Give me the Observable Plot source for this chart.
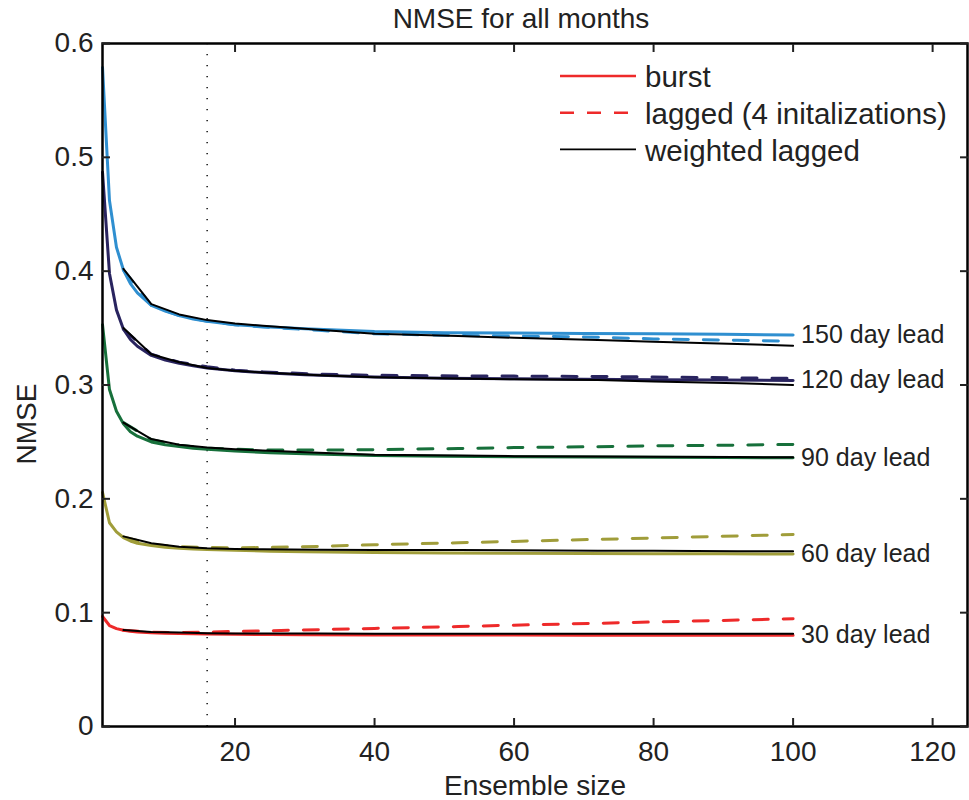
<!DOCTYPE html>
<html>
<head>
<meta charset="utf-8">
<script src="https://cdn.jsdelivr.net/npm/d3@7"></script>
<script src="https://cdn.jsdelivr.net/npm/@observablehq/plot@0.6"></script>
<style>
  body { margin: 0; background: #fff; }
  #wrap { position: relative; width: 969px; height: 800px; font-family: "Liberation Sans", Arial, Helvetica, sans-serif; }
  #overlay { position: absolute; left: 0; top: 0; pointer-events: none; }
</style>
</head>
<body>
<div id="wrap"></div>
<script>
// ---------------- data ----------------
const leads = ["150 day lead", "120 day lead", "90 day lead", "60 day lead", "30 day lead"];
const leadColors = ["#2f8fd0", "#29245f", "#17703b", "#a09d3a", "#ee2a2a"];

const xTicks = [20, 40, 60, 80, 100, 120];
const yTicks = [0, 0.1, 0.2, 0.3, 0.4, 0.5, 0.6];
const markerX = [16];

// burst ensemble sizes
const burstX = [1, 2, 3, 4, 5, 6, 8, 10, 12, 14, 16, 20, 25, 30, 40, 50, 60, 70, 80, 90, 100];
const burst150 = [0.579, 0.462, 0.421, 0.401, 0.389, 0.381, 0.370, 0.365, 0.361, 0.358, 0.356, 0.353, 0.351, 0.3495, 0.347, 0.346, 0.3457, 0.3453, 0.345, 0.3445, 0.344];
const burst120 = [0.487, 0.398, 0.366, 0.349, 0.340, 0.334, 0.326, 0.322, 0.319, 0.317, 0.315, 0.3125, 0.3105, 0.309, 0.307, 0.306, 0.3055, 0.305, 0.3047, 0.3043, 0.304];
const burst90 = [0.353, 0.296, 0.277, 0.266, 0.259, 0.255, 0.250, 0.2475, 0.246, 0.2445, 0.2435, 0.242, 0.2405, 0.2395, 0.238, 0.2375, 0.237, 0.2368, 0.2365, 0.2363, 0.236];
const burst60 = [0.2057, 0.179, 0.171, 0.166, 0.163, 0.161, 0.159, 0.1575, 0.1565, 0.156, 0.1555, 0.1548, 0.154, 0.1535, 0.1528, 0.1524, 0.1521, 0.152, 0.1518, 0.1517, 0.1516];
const burst30 = [0.0966, 0.0887, 0.086, 0.0845, 0.0836, 0.083, 0.0824, 0.0819, 0.0816, 0.0814, 0.0812, 0.081, 0.0808, 0.0806, 0.0804, 0.0803, 0.0803, 0.0802, 0.0802, 0.0802, 0.0802];

// lagged ensembles (4 initializations)
const lagX = [4, 8, 12, 16, 20, 24, 32, 40, 52, 60, 72, 80, 92, 100];
const lagged150 = [0.401, 0.370, 0.361, 0.356, 0.353, 0.351, 0.348, 0.345, 0.3435, 0.343, 0.342, 0.3405, 0.3393, 0.3385];
const lagged120 = [0.349, 0.327, 0.320, 0.316, 0.313, 0.3115, 0.3095, 0.3085, 0.308, 0.3078, 0.3075, 0.307, 0.3063, 0.3058];
const lagged90 = [0.267, 0.252, 0.247, 0.2445, 0.2435, 0.243, 0.2428, 0.2432, 0.2442, 0.245, 0.2458, 0.2465, 0.2472, 0.2478];
const lagged60 = [0.1665, 0.160, 0.158, 0.1572, 0.157, 0.1572, 0.1582, 0.1597, 0.1614, 0.1626, 0.1644, 0.1656, 0.1674, 0.1686];
const lagged30 = [0.0845, 0.0828, 0.0826, 0.083, 0.0835, 0.084, 0.0851, 0.0862, 0.0878, 0.089, 0.0907, 0.0918, 0.0935, 0.0946];

// weighted lagged
const weighted150 = [0.402, 0.371, 0.362, 0.357, 0.354, 0.352, 0.3485, 0.345, 0.343, 0.3415, 0.3395, 0.338, 0.336, 0.3345];
const weighted120 = [0.350, 0.327, 0.320, 0.315, 0.3125, 0.311, 0.3085, 0.3068, 0.3058, 0.305, 0.3043, 0.303, 0.3015, 0.300];
const weighted90 = [0.267, 0.2525, 0.2475, 0.245, 0.2435, 0.2425, 0.2405, 0.2388, 0.238, 0.2375, 0.2372, 0.237, 0.2367, 0.2365];
const weighted60 = [0.167, 0.161, 0.158, 0.1565, 0.156, 0.1557, 0.1553, 0.1551, 0.155, 0.1548, 0.1545, 0.1543, 0.154, 0.1539];
const weighted30 = [0.0848, 0.083, 0.0825, 0.082, 0.0818, 0.0817, 0.0816, 0.0815, 0.0815, 0.0815, 0.0815, 0.0815, 0.0815, 0.0815];

const legendLabels = ["burst", "lagged (4 initalizations)", "weighted lagged"];
const titleText = "NMSE for all months";
const yLabel = "NMSE";
const xLabel = "Ensemble size";

// ---------------- tables ----------------
const burstSets = [burst150, burst120, burst90, burst60, burst30];
const laggedSets = [lagged150, lagged120, lagged90, lagged60, lagged30];
const weightedSets = [weighted150, weighted120, weighted90, weighted60, weighted30];

const burstRows = [], laggedRows = [], weightedRows = [], endRows = [];
leads.forEach((lead, i) => {
  burstX.forEach((x, j) => burstRows.push({lead, x, y: burstSets[i][j]}));
  lagX.forEach((x, j) => laggedRows.push({lead, x, y: laggedSets[i][j]}));
  lagX.forEach((x, j) => weightedRows.push({lead, x, y: weightedSets[i][j]}));
  endRows.push({lead, x: burstX[burstX.length - 1], y: burstSets[i][burstX.length - 1]});
});

const FONT = "Liberation Sans, Arial, Helvetica, sans-serif";

const chart = Plot.plot({
  width: 969,
  height: 800,
  marginLeft: 102,
  marginRight: 2,
  marginTop: 43,
  marginBottom: 74,
  style: {fontFamily: FONT, fontSize: "28px", color: "#222", background: "#fff"},
  x: {domain: [1, 125]},
  y: {domain: [0, 0.6]},
  color: {domain: leads, range: leadColors},
  marks: [
    Plot.ruleX(markerX, {stroke: "black", strokeWidth: 1.4, strokeDasharray: "1.2,9.8"}),
    Plot.line(burstRows, {x: "x", y: "y", z: "lead", stroke: "lead", strokeWidth: 3}),
    Plot.line(laggedRows, {x: "x", y: "y", z: "lead", stroke: "lead", strokeWidth: 3, strokeDasharray: "15,15"}),
    Plot.line(weightedRows, {x: "x", y: "y", z: "lead", stroke: "black", strokeWidth: 2}),
    Plot.frame({stroke: "black", strokeWidth: 2.5}),
    Plot.axisX({ticks: xTicks, tickSize: -8, tickPadding: 23, strokeWidth: 2,
      label: xLabel, labelAnchor: "center", labelArrow: "none", labelOffset: 68}),
    Plot.axisX({anchor: "top", ticks: xTicks, tickSize: -8, strokeWidth: 2, tickFormat: () => "", label: null}),
    Plot.axisY({ticks: yTicks, tickSize: -8, tickPadding: 17, strokeWidth: 2, tickFormat: d3.format("~g"), label: null}),
    Plot.axisY({anchor: "right", ticks: yTicks, tickSize: -8, strokeWidth: 2, tickFormat: () => "", label: null}),
    Plot.text(endRows, {x: "x", y: "y", text: "lead", dx: 8, textAnchor: "start", fontSize: 25, fill: "#222"})
  ]
});

const wrap = document.getElementById("wrap");
wrap.appendChild(chart);

// ---------------- title, y label, legend overlay ----------------
const ov = d3.select(wrap).append("svg")
  .attr("id", "overlay").attr("width", 969).attr("height", 800)
  .style("font-family", FONT);

ov.append("text").attr("x", 521).attr("y", 28).attr("text-anchor", "middle")
  .attr("font-size", 28).attr("fill", "#222").text(titleText);

ov.append("text").attr("transform", "translate(36,424) rotate(-90)").attr("text-anchor", "middle")
  .attr("font-size", 28).attr("fill", "#222").text(yLabel);

const legendStyles = [
  {stroke: leadColors[4], width: 2.5, dash: null},
  {stroke: leadColors[4], width: 2.5, dash: "14,13"},
  {stroke: "black", width: 1.6, dash: null}
];
const lg = ov.append("g");
legendLabels.forEach((label, i) => {
  const cy = 76 + i * 36.7;
  const st = legendStyles[i];
  const ln = lg.append("line").attr("x1", 560).attr("x2", 636).attr("y1", cy).attr("y2", cy)
    .attr("stroke", st.stroke).attr("stroke-width", st.width);
  if (st.dash) ln.attr("stroke-dasharray", st.dash);
  lg.append("text").attr("x", 645).attr("y", cy + 11.3).attr("font-size", 29.5).attr("fill", "#222").text(label);
});
</script>
</body>
</html>
